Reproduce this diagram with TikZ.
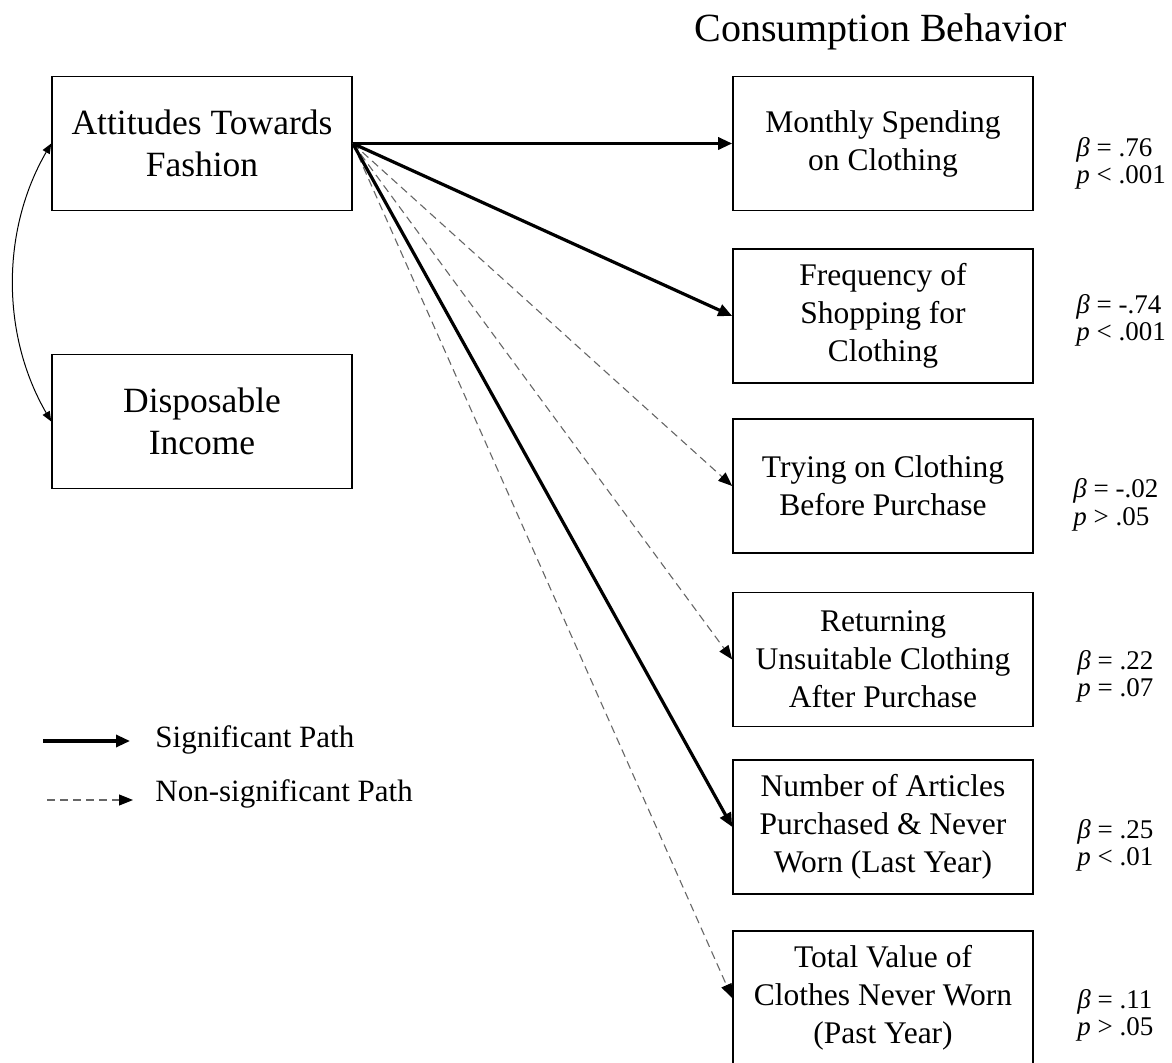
\documentclass[tikz,border=0pt]{standalone}
\usepackage{fontspec}
\setmainfont{Liberation Serif}
\usetikzlibrary{arrows.meta}
\begin{document}
\begin{tikzpicture}[x=0.5pt,y=-0.5pt,
  box/.style={draw=black,line width=0.8pt,minimum width=150pt,minimum height=67pt,inner sep=0pt,align=center},
  lbox/.style={box,font=\fontsize{17.75pt}{21pt}\selectfont},
  rbox/.style={box,font=\fontsize{15.75pt}{19pt}\selectfont},
  sig/.style={line width=1.6pt,-{Triangle[length=7pt,width=6pt]}},
  nsig/.style={line width=0.55pt,draw=black!60,dash pattern=on 4pt off 2.5pt,-{Triangle[length=7pt,width=5.5pt,color=black]}},
  stat/.style={anchor=base west,align=left,inner sep=0pt,font=\fontsize{13.5pt}{13.5pt}\selectfont},
  legend/.style={anchor=base west,inner sep=0pt,font=\fontsize{15.5pt}{19pt}\selectfont},
  corr/.style={line width=0.5pt,{Triangle[length=5pt,width=4pt]}-{Triangle[length=5pt,width=4pt]}}]
\useasboundingbox (0,0) rectangle (1172,1063);

% left boxes
\node[lbox] (att) at (202,143.5) {Attitudes Towards\\Fashion};
\node[lbox] (dis) at (202,421.5) {Disposable\\Income};

% title
\node[font=\fontsize{20pt}{24pt}\selectfont,anchor=base,inner sep=0pt] (title) at (880.5,42) {Consumption Behavior};

% right boxes
\node[rbox] (mon) at (883,143.5) {Monthly Spending\\on Clothing};
\node[rbox] (fre) at (883,316) {Frequency of\\Shopping for\\Clothing};
\node[rbox] (try) at (883,486) {Trying on Clothing\\Before Purchase};
\node[rbox] (ret) at (883,659.5) {Returning\\Unsuitable Clothing\\After Purchase};
\node[rbox] (num) at (883,827) {Number of Articles\\Purchased \& Never\\Worn (Last Year)};
\node[rbox] (tot) at (883,998) {Total Value of\\Clothes Never Worn\\(Past Year)};

% statistics
\node[stat] (smon) at (1076,184) {\textit{β} = .76\\\textit{p} < .001};
\node[stat] (sfre) at (1076,341) {\textit{β} = -.74\\\textit{p} < .001};
\node[stat] (stry) at (1073,525) {\textit{β} = -.02\\\textit{p} > .05};
\node[stat] (sret) at (1077,696) {\textit{β} = .22\\\textit{p} = .07};
\node[stat] (snum) at (1077,865) {\textit{β} = .25\\\textit{p} < .01};
\node[stat] (stot) at (1077,1035) {\textit{β} = .11\\\textit{p} > .05};

% correlation
\draw[corr] (att.west) .. controls (1,230) and (1,335) .. (dis.west);

% paths
\draw[nsig] (att.east) -- (try.west);
\draw[nsig] (att.east) -- (ret.west);
\draw[nsig] (att.east) -- (tot.west);
\draw[sig] (att.east) -- (mon.west);
\draw[sig] (att.east) -- (fre.west);
\draw[sig] (att.east) -- (num.west);

% legend
\coordinate (ls1) at (43,741);
\coordinate (le1) at (130,741);
\draw[sig] (ls1) -- (le1);
\node[legend] (lt1) at (155,747) {Significant Path};
\coordinate (ls2) at (47,800);
\coordinate (le2) at (133,800);
\draw[nsig] (ls2) -- (le2);
\node[legend] (lt2) at (155,801) {Non-significant Path};
\end{tikzpicture}
\end{document}
